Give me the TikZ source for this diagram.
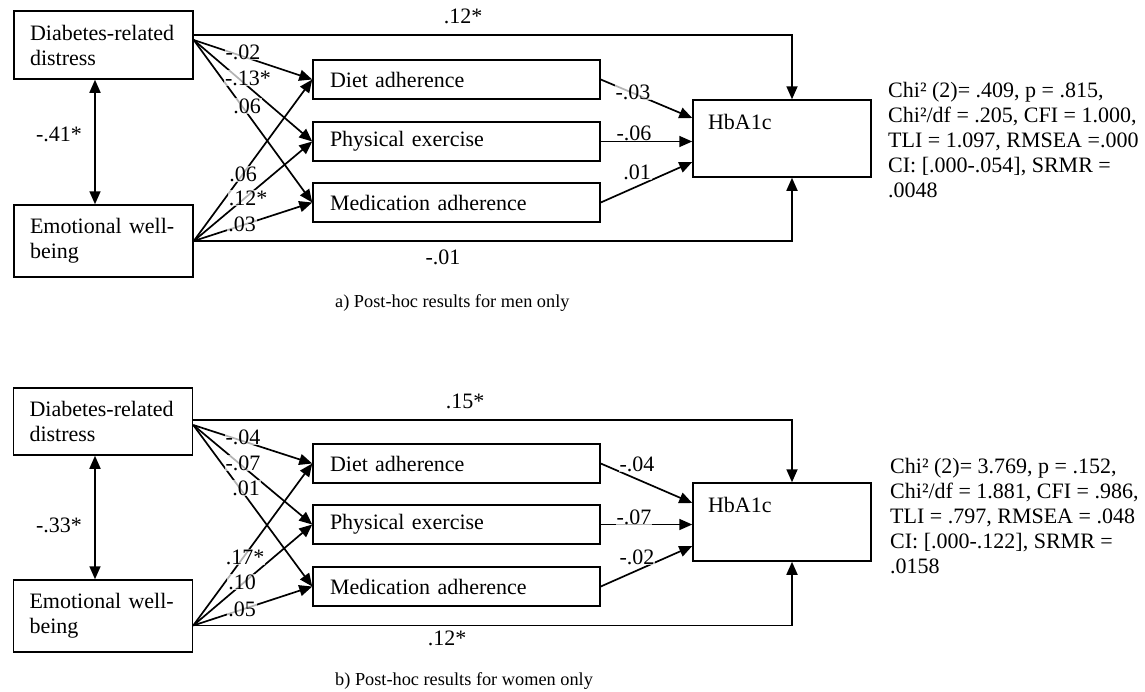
\documentclass[tikz,border=0pt]{standalone}
\usepackage{fontspec}
\setmainfont{Liberation Serif}
\usetikzlibrary{arrows.meta}
\begin{document}
\begin{tikzpicture}[x=1pt,y=-1pt,
  box/.style={draw, line width=1.5pt, inner sep=0pt, font=\fontsize{22}{25}\selectfont},
  lbox/.style={box, minimum width=179pt, minimum height=#1, text width=147pt, align=left},
  mbox/.style={box, minimum width=287pt, minimum height=39pt, text width=253pt, align=left},
  hbox/.style={box, minimum width=178pt, text width=148pt, align=left, text height=29.5pt, text depth=#1},
  arr/.style={line width=1.7pt, -{Triangle[length=13pt,width=11pt]}},
  dbl/.style={line width=1.7pt, {Triangle[length=13pt,width=11pt]}-{Triangle[length=13pt,width=11pt]}},
  lab/.style={font=\fontsize{22}{24}\selectfont, inner sep=1pt, fill=white, fill opacity=0.7, text opacity=1},
  fittext/.style={font=\fontsize{22}{25}\selectfont, inner sep=0pt, align=left, anchor=north west},
  captext/.style={font=\fontsize{18.3}{20}\selectfont, inner sep=0pt, anchor=west}
]
\useasboundingbox (0,0) rectangle (1145,691);

% ---------------- a) men ----------------
\node[lbox=68pt] (drdA) at (103.5,45) {Diabetes-related\\distress};
\node[lbox=72pt] (ewbA) at (103.5,241) {Emotional well-\\being};
\node[mbox] (dietA) at (456.5,79.5) {Diet adherence};
\node[mbox] (physA) at (456.5,141.5) {Physical exercise};
\node[mbox] (medA) at (456.5,202.5) {Medication adherence};
\node[hbox=47.5pt] (hbaA) at (782,138.5) {HbA1c};

\coordinate (dsA) at ([yshift=5pt]drdA.east);
\draw[arr] ([yshift=10pt]drdA.east) -| ([xshift=10pt]hbaA.north);
\draw[arr] (ewbA.east) -| ([xshift=10pt]hbaA.south);
\draw[dbl] ([xshift=-8.5pt]drdA.south) -- ([xshift=-8.5pt]ewbA.north);
\draw[arr] (dsA) -- (dietA.west);
\draw[arr] (dsA) -- (physA.west);
\draw[arr] (dsA) -- (medA.west);
\draw[arr] (ewbA.east) -- (dietA.west);
\draw[arr] (ewbA.east) -- (physA.west);
\draw[arr] (ewbA.east) -- (medA.west);
\draw[arr] (dietA.east) -- ([yshift=20.5pt]hbaA.west);
\draw[arr] (physA.east) -- (physA.east -| hbaA.west);
\draw[arr] (medA.east) -- ([yshift=-23.5pt]hbaA.west);

\node[lab] at (243,52) {-.02};
\node[lab] at (248,78) {-.13*};
\node[lab] at (247,106) {.06};
\node[lab] at (243,174) {.06};
\node[lab] at (248,198) {.12*};
\node[lab] at (242,224) {.03};
\node[lab] at (633,92) {-.03};
\node[lab] at (634,133) {-.06};
\node[lab] at (637,172) {.01};
\node[lab] at (463,16) {.12*};
\node[lab] at (443,257) {-.01};
\node[lab] at (59,134) {-.41*};

\node[fittext] (fitA) at (888,82) {Chi² (2)= .409, p = .815,\\Chi²/df = .205, CFI = 1.000,\\TLI = 1.097, RMSEA =.000\\CI: [.000-.054], SRMR =\\.0048};
\node[captext] (capA) at (335,303) {a) Post-hoc results for men only};

% ---------------- b) women ----------------
\node[lbox=67pt] (drdB) at (103,421.5) {Diabetes-related\\distress};
\node[lbox=72pt] (ewbB) at (103,616) {Emotional well-\\being};
\node[mbox] (dietB) at (456.5,463.5) {Diet adherence};
\node[mbox] (physB) at (456.5,524.5) {Physical exercise};
\node[mbox] (medB) at (456.5,586.5) {Medication adherence};
\node[hbox=48.5pt] (hbaB) at (782,522) {HbA1c};

\coordinate (dsB) at ([yshift=-3.5pt]drdB.east);
\coordinate (esB) at ([yshift=-9.5pt]ewbB.east);
\draw[arr] ([yshift=1.5pt]drdB.east) -| ([xshift=10pt]hbaB.north);
\draw[arr] (esB) -| ([xshift=10pt]hbaB.south);
\draw[dbl] ([xshift=-8pt]drdB.south) -- ([xshift=-8pt]ewbB.north);
\draw[arr] (dsB) -- (dietB.west);
\draw[arr] (dsB) -- (physB.west);
\draw[arr] (dsB) -- (medB.west);
\draw[arr] (esB) -- (dietB.west);
\draw[arr] (esB) -- (physB.west);
\draw[arr] (esB) -- (medB.west);
\draw[arr] (dietB.east) -- ([yshift=19pt]hbaB.west);
\draw[arr] (physB.east) -- (physB.east -| hbaB.west);
\draw[arr] (medB.east) -- ([yshift=-24pt]hbaB.west);

\node[lab] at (243,437) {-.04};
\node[lab] at (243,463) {-.07};
\node[lab] at (246,488) {.01};
\node[lab] at (245,557) {.17*};
\node[lab] at (242,582) {.10};
\node[lab] at (242,609) {.05};
\node[lab] at (637,464) {-.04};
\node[lab] at (634,517) {-.07};
\node[lab] at (637,557) {-.02};
\node[lab] at (465,401) {.15*};
\node[lab] at (447,638) {.12*};
\node[lab] at (59,525) {-.33*};

\node[fittext] (fitB) at (890,458) {Chi² (2)= 3.769, p = .152,\\Chi²/df = 1.881, CFI = .986,\\TLI = .797, RMSEA = .048\\CI: [.000-.122], SRMR =\\.0158};
\node[captext] (capB) at (335,681) {b) Post-hoc results for women only};
\end{tikzpicture}
\end{document}
